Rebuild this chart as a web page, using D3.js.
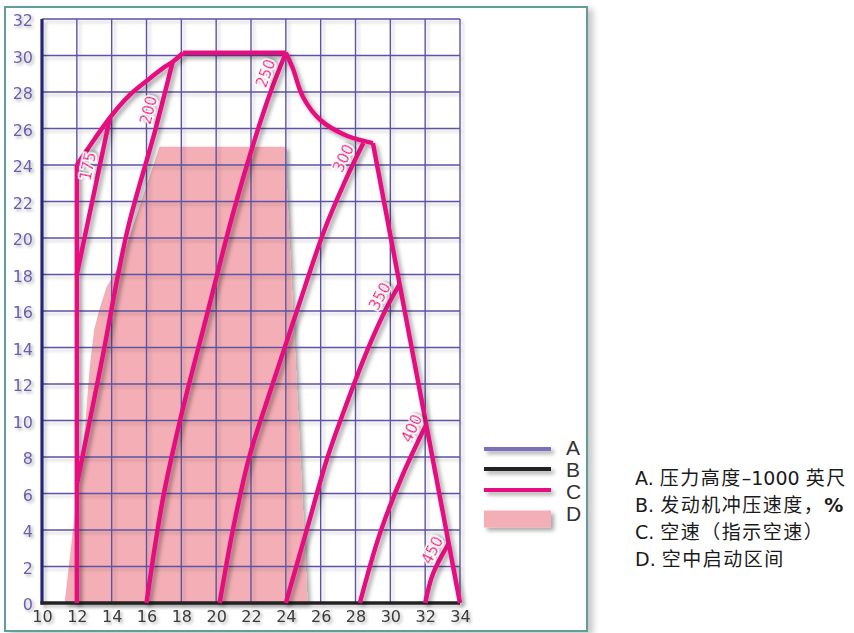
<!DOCTYPE html>
<html>
<head>
<meta charset="utf-8">
<script src="https://cdn.jsdelivr.net/npm/d3@7"></script>
<style>
  body { margin: 0; background: #fff; }
  svg { display: block; }
</style>
</head>
<body>
<svg id="chart" width="854" height="633"></svg>
<script>
// Axis ticks: x = engine ram speed (%), y = pressure altitude (1000 ft)
const xTicks = [10, 12, 14, 16, 18, 20, 22, 24, 26, 28, 30, 32, 34];
const yTicks = [0, 2, 4, 6, 8, 10, 12, 14, 16, 18, 20, 22, 24, 26, 28, 30, 32];

// Air-start zone (D), as [ram speed %, altitude]
const airStartZone = [
  [11.3, 0], [11.9, 5], [12.5, 10], [12.75, 13], [13.0, 15], [13.3, 16.1],
  [13.7, 17.3], [14.5, 18.6], [15.0, 20.0], [15.7, 22.0], [16.75, 25.0],
  [24.0, 25.0], [24.05, 23.0], [24.6, 12.5], [25.25, 0]
];

// Operating envelope boundary segments
const envelopeLeft     = [[12, 0], [12, 24]];
const envelopeTopLeft  = [[12, 24], [13, 25.4], [13.9, 26.6], [15, 27.8], [16, 28.6], [17, 29.35], [17.5, 29.65], [18.1, 30.15]];
const envelopeTop      = [[18.1, 30.15], [24, 30.15]];
const envelopeTopRight = [[24, 30.15], [24.4, 29.3], [25, 27.7], [26, 26.45], [27.5, 25.6], [29, 25.2]];
const envelopeRight    = [[29, 25.2], [34, 0]];

// Indicated airspeed lines (C)
const speeds = [175, 200, 250, 300, 350, 400, 450];
const speed175 = [[12, 18], [13.9, 26.6]];
const speed200 = [[12, 6.5], [13.4, 13.1], [14.9, 20.4], [16.5, 25.9], [17.5, 29.65]];
const speed250 = [[16, 0], [16.5, 3.2], [17, 6], [18, 10.3], [19.5, 15.9], [21.1, 21.8], [22.9, 27.4], [24, 30.15]];
const speed300 = [[20.2, 0], [21.0, 4.2], [21.9, 8.0], [23.0, 11.3], [24.6, 15.9], [26.2, 20.4], [27.3, 22.9], [28.45, 25.2]];
const speed350 = [[24, 0], [25.2, 4.0], [26.4, 8.0], [27.6, 11.2], [28.7, 13.9], [29.8, 16.2], [30.55, 17.5]];
const speed400 = [[28.25, 0], [29.4, 3.8], [30.7, 7.0], [32.05, 9.75]];
const speed450 = [[32, 0], [32.45, 1.6], [33.35, 3.25]];
const speedLines = [speed175, speed200, speed250, speed300, speed350, speed400, speed450];
// Altitude at which each speed label sits along its line
const labelAltitudes = [23.8, 26.85, 28.8, 24.1, 16.5, 9.3, 2.6];

// Legend keys and notes
const legendKeys = ["A", "B", "C", "D"];
const notes = [
  ["A. ", "压力高度", "–1000 ", "英尺"],
  ["B. ", "发动机冲压速度，", "%"],
  ["C. ", "空速（指示空速）"],
  ["D. ", "空中启动区间"]
];

const colors = {
  grid: "#5d52a3",
  gridLegend: "#7b6fbb",
  axisLeft: "#27247d",
  axisBottom: "#222222",
  speed: "#e5117f",
  zone: "#f4aeb5",
  frame: "#5f9e9c",
  yLabel: "#6a5fab",
  xLabel: "#3a3a3a"
};

const W = 854, H = 633;
const svg = d3.select("#chart");
const defs = svg.append("defs");

// Drop shadows use a generous user-space region so that thin lines
// and transformed text are never clipped
function shadow(id, dx, dy, sd, op) {
  defs.append("filter").attr("id", id)
    .attr("filterUnits", "userSpaceOnUse")
    .attr("x", -2 * W).attr("y", -2 * H).attr("width", 5 * W).attr("height", 5 * H)
    .append("feDropShadow")
    .attr("dx", dx).attr("dy", dy).attr("stdDeviation", sd)
    .attr("flood-color", "#000").attr("flood-opacity", op);
}
shadow("frameShadow", 5, 3, 3, 0.22);
shadow("markShadow", 3, 3, 2, 0.35);
shadow("gridShadow", 3, 3, 1.5, 0.18);
shadow("textShadow", 2, 2, 1.5, 0.3);

// Outer frame
svg.append("rect")
  .attr("x", 5).attr("y", 7).attr("width", 582).attr("height", 624)
  .attr("fill", "#fff").attr("stroke", colors.frame).attr("stroke-width", 2)
  .attr("filter", "url(#frameShadow)");

const sx = d3.scaleLinear().domain([10, 34]).range([42, 460]);
const sy = d3.scaleLinear().domain([0, 32]).range([603, 19]);

const line = d3.line().x(d => sx(d[0])).y(d => sy(d[1]));
const smooth = d3.line().x(d => sx(d[0])).y(d => sy(d[1])).curve(d3.curveCatmullRom.alpha(0.5));

// Air-start zone
svg.append("path")
  .attr("d", line(airStartZone) + "Z")
  .attr("fill", colors.zone)
  .attr("filter", "url(#markShadow)");

// Grid (A)
const grid = svg.append("g")
  .attr("stroke", colors.grid).attr("stroke-width", 1.4)
  .attr("filter", "url(#gridShadow)");
grid.selectAll("line.v").data(xTicks.filter(d => d > 10)).join("line")
  .attr("class", "v")
  .attr("x1", d => sx(d)).attr("x2", d => sx(d))
  .attr("y1", sy(0)).attr("y2", sy(32));
grid.selectAll("line.h").data(yTicks.filter(d => d > 0)).join("line")
  .attr("class", "h")
  .attr("x1", sx(10)).attr("x2", sx(34))
  .attr("y1", d => sy(d)).attr("y2", d => sy(d));

// Axis lines
svg.append("line")
  .attr("x1", sx(10)).attr("x2", sx(10)).attr("y1", sy(32)).attr("y2", sy(0) + 1.5)
  .attr("stroke", colors.axisLeft).attr("stroke-width", 3.2)
  .attr("filter", "url(#gridShadow)");
svg.append("line")
  .attr("x1", sx(10) - 1.5).attr("x2", sx(34)).attr("y1", sy(0)).attr("y2", sy(0))
  .attr("stroke", colors.axisBottom).attr("stroke-width", 3.5)
  .attr("filter", "url(#gridShadow)");

// Tick labels
const tickFont = "16px 'DejaVu Sans', Verdana, sans-serif";
const yAxis = svg.append("g")
  .attr("transform", `translate(${sx(10)},0)`)
  .call(d3.axisLeft(sy).tickValues(yTicks).tickSize(0).tickPadding(9));
yAxis.select(".domain").remove();
yAxis.selectAll("text")
  .attr("fill", colors.yLabel).attr("dy", "0.42em")
  .style("font", tickFont)
  .attr("filter", "url(#textShadow)");

const xAxis = svg.append("g")
  .attr("transform", `translate(0,${sy(0)})`)
  .call(d3.axisBottom(sx).tickValues(xTicks).tickSize(0).tickPadding(8));
xAxis.select(".domain").remove();
xAxis.selectAll("text")
  .attr("fill", colors.xLabel)
  .style("font", tickFont)
  .attr("filter", "url(#textShadow)");

// Envelope and airspeed lines (C)
const speedG = svg.append("g")
  .attr("fill", "none").attr("stroke", colors.speed).attr("stroke-width", 4.5)
  .attr("stroke-linejoin", "round")
  .attr("filter", "url(#markShadow)");
[envelopeLeft, envelopeTopLeft, envelopeTop, envelopeTopRight, envelopeRight].forEach(seg => {
  speedG.append("path").attr("d", smooth(seg));
});
speedG.selectAll("path.speed").data(speedLines).join("path")
  .attr("class", "speed")
  .attr("d", d => smooth(d));

// Airspeed labels, rotated along their lines
function pointAt(points, alt) {
  for (let i = 1; i < points.length; i++) {
    const a = points[i - 1], b = points[i];
    if (alt <= b[1] || i === points.length - 1) {
      const t = (alt - a[1]) / (b[1] - a[1]);
      const px = sx(a[0] + t * (b[0] - a[0]));
      const py = sy(alt);
      const ang = Math.atan2(sy(b[1]) - sy(a[1]), sx(b[0]) - sx(a[0]));
      return { px, py, ang };
    }
  }
}
const labelOffset = 11;
const labelG = svg.append("g");
speeds.forEach((s, i) => {
  const p = pointAt(speedLines[i], labelAltitudes[i]);
  // offset towards the upper-left side of the line
  const nx = Math.sin(p.ang), ny = -Math.cos(p.ang);
  const cx = p.px + nx * labelOffset, cy = p.py + ny * labelOffset;
  labelG.append("text")
    .attr("transform", `translate(${cx},${cy}) rotate(${p.ang * 180 / Math.PI})`)
    .attr("text-anchor", "middle").attr("dominant-baseline", "central")
    .attr("fill", colors.speed)
    .attr("stroke", "#fff").attr("stroke-width", 3).attr("paint-order", "stroke")
    .style("font", "15px 'DejaVu Sans', Verdana, sans-serif")
    .attr("filter", "url(#textShadow)")
    .text(s);
});

// Legend
const legendStyles = [
  { type: "line", color: colors.gridLegend, width: 4 },
  { type: "line", color: colors.axisBottom, width: 4 },
  { type: "line", color: colors.speed, width: 4 },
  { type: "rect", color: colors.zone }
];
const legendY = [449, 469, 490, 519];
const legend = svg.append("g");
legendKeys.forEach((k, i) => {
  const st = legendStyles[i];
  if (st.type === "line") {
    legend.append("line")
      .attr("x1", 484).attr("x2", 551).attr("y1", legendY[i]).attr("y2", legendY[i])
      .attr("stroke", st.color).attr("stroke-width", st.width)
      .attr("filter", "url(#markShadow)");
  } else {
    legend.append("rect")
      .attr("x", 484).attr("y", legendY[i] - 8.5).attr("width", 67).attr("height", 17)
      .attr("fill", st.color)
      .attr("filter", "url(#markShadow)");
  }
  legend.append("text")
    .attr("x", 566).attr("y", [447, 469, 491, 513][i] + 7.5)
    .attr("fill", "#333")
    .style("font", "21px 'Liberation Sans', Arial, sans-serif")
    .text(k);
});

// Notes on the right
const noteBase = [485, 512, 539, 566];
notes.forEach((parts, i) => {
  const t = svg.append("text")
    .attr("x", 635).attr("y", noteBase[i])
    .attr("fill", "#1a1a1a")
    .style("font-size", "19px");
  parts.forEach(p => {
    const isCJK = /[\u3000-\u9fff\uff00-\uffef]/.test(p);
    t.append("tspan")
      .style("font-family", isCJK ? "'Noto Sans CJK SC', sans-serif" : "'DejaVu Sans', Verdana, sans-serif")
      .style("font-weight", p === "%" ? "bold" : "normal")
      .style("letter-spacing", isCJK ? "1.5px" : "0")
      .text(p);
  });
});
</script>
</body>
</html>
